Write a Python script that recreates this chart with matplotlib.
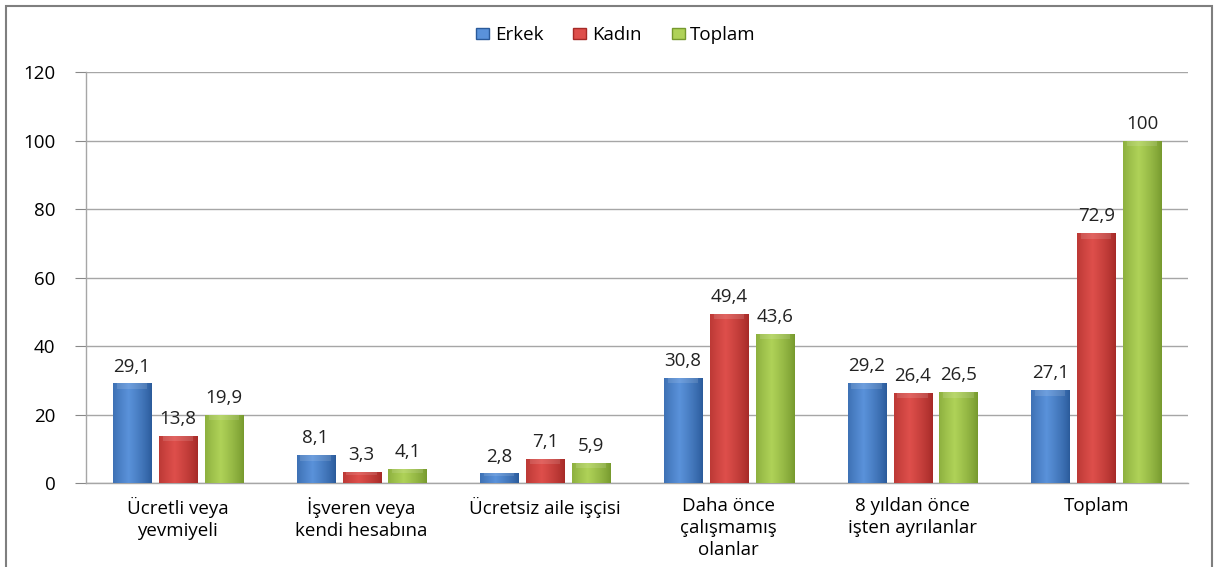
import numpy as np
import matplotlib
matplotlib.use("Agg")
import matplotlib.pyplot as plt
from matplotlib.colors import LinearSegmentedColormap
from matplotlib.patches import Rectangle, Patch

plt.rcParams['font.family'] = ['Open Sans', 'DejaVu Sans']

# data
categories = ["Ücretli veya\nyevmiyeli", "İşveren veya\nkendi hesabına", "Ücretsiz aile işçisi",
              "Daha önce\nçalışmamış\nolanlar", "8 yıldan önce\nişten ayrılanlar", "Toplam"]
erkek = [29.1, 8.1, 2.8, 30.8, 29.2, 27.1]
kadin = [13.8, 3.3, 7.1, 49.4, 26.4, 72.9]
toplam = [19.9, 4.1, 5.9, 43.6, 26.5, 100]
series_names = ["Erkek", "Kadın", "Toplam"]

# (dark edge, light middle) per series
shades = [("#2a5a9a", "#5a92da"), ("#a52a27", "#de4f4b"), ("#76992e", "#afd258")]
fs = 13.5

fig = plt.figure(figsize=(12.15, 5.67), dpi=100)
ax = fig.add_axes([0.0708, 0.148, 0.907, 0.725])

x = np.arange(len(categories))
step = 0.25
width = 0.207
grad = np.linspace(0, 1, 64)
profile = np.clip(1 - np.abs(grad - 0.4) / 0.6, 0, 1) ** 0.8

for i, (vals, name) in enumerate(zip([erkek, kadin, toplam], series_names)):
    dark, light = shades[i]
    cmap = LinearSegmentedColormap.from_list(name, [dark, light])
    bars = ax.bar(x + (i - 1) * step, vals, width, color=light, edgecolor=dark,
                  linewidth=0.6, zorder=3)
    for b, v in zip(bars, vals):
        x0, w, h = b.get_x(), b.get_width(), b.get_height()
        im = ax.imshow(profile[np.newaxis, :], cmap=cmap, aspect='auto',
                       extent=(x0, x0 + w, 0, h), zorder=3.5, vmin=0, vmax=1)
        im.set_clip_path(b)
        # soft top bevel
        bh = min(1.6, h * 0.3)
        ax.add_patch(Rectangle((x0 + w * 0.1, h - bh), w * 0.8, bh, facecolor='white',
                               alpha=0.12, linewidth=0, zorder=3.6))
        lab = ("%g" % v).replace(".", ",")
        ax.text(x0 + w / 2, h + 2.3, lab, ha='center', va='bottom', fontsize=fs,
                color='#222222', zorder=5)

ax.set_xlim(-0.5, len(categories) - 0.5)
ax.set_ylim(0, 120)
ax.set_yticks(range(0, 121, 20))
ax.set_xticks(x)
ax.set_xticklabels(categories, fontsize=fs, linespacing=1.3)
ax.tick_params(axis='x', length=0, pad=10)
ax.tick_params(axis='y', length=8, color='#888888', labelsize=fs, pad=14)
ax.grid(axis='y', color='#a6a6a6', linewidth=1, zorder=0)
ax.set_axisbelow(True)
for s in ['top', 'right']:
    ax.spines[s].set_visible(False)
for s in ['left', 'bottom']:
    ax.spines[s].set_color('#a6a6a6')
    ax.spines[s].set_linewidth(1)

handles = [Patch(facecolor=shades[i][1], edgecolor=shades[i][0]) for i in range(3)]
fig.legend(handles, series_names, loc='center', bbox_to_anchor=(0.507, 0.938), ncol=3,
           frameon=False, fontsize=fs, handlelength=0.7, handleheight=0.55,
           handletextpad=0.3, columnspacing=1.6)

# outer frame
fig.add_artist(Rectangle((6 / 1215, -0.05), 1206 / 1215, 1 - 6 / 567 + 0.05,
                         transform=fig.transFigure, fill=False, edgecolor='#7f7f7f',
                         linewidth=1.5))

fig.savefig("out.png", dpi=100)
